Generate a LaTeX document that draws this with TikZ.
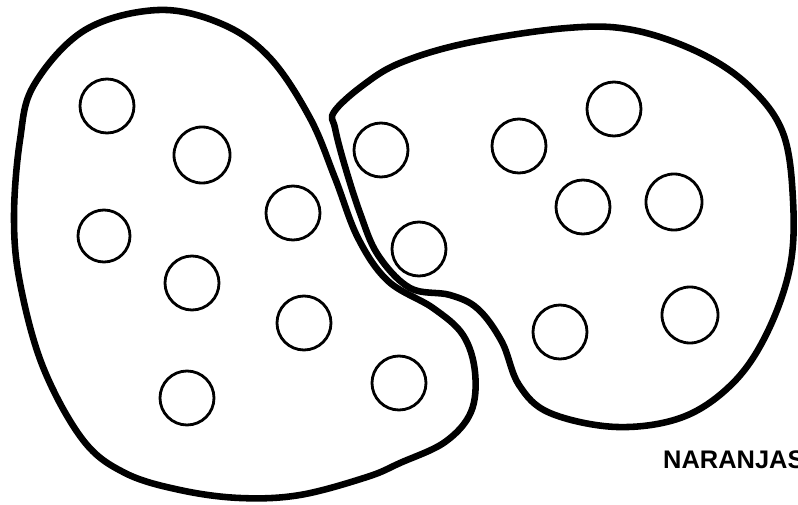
\documentclass[tikz,border=0pt]{standalone}
\usepackage{fontspec}
\setmainfont{Liberation Sans}
\usepackage{xcolor}
\usepackage{tikz}
\usetikzlibrary{positioning}
\definecolor{inkc}{HTML}{000000}
\tikzset{
  blob/.style={draw=inkc,line width=5.6pt,line join=round},
  fruit/.style={draw=inkc,line width=2.4pt},
  lbl/.style={font=\bfseries\fontsize{21.7}{26}\selectfont,inkc,inner sep=0pt}
}
\begin{document}
\begin{tikzpicture}[x=0.03cm,y=-0.03cm]
\useasboundingbox (0,0) rectangle (798,505);
% left group
\draw[blob] plot[smooth cycle,tension=0.6] coordinates{
  (158,10) (222,24) (270,58) (310,118) (335,178) (358,238) (388,281)
  (433,308) (463,335) (475,372) (471,412) (445,442) (400,463) (367,477)
  (300,495) (240,498) (180,490) (125,473) (83,440) (43,367) (20,283)
  (14,217) (20,140) (34,85) (85,30)};
% right group
\draw[blob] plot[smooth cycle,tension=0.6] coordinates{
  (334,112) (362,86) (400,63) (467,43) (567,28) (633,30) (700,53)
  (750,87) (783,133) (793,200) (790,267) (767,333) (733,383) (683,417)
  (617,427) (550,413) (519,385) (502,342) (478,309) (450,295) (410,288)
  (378,255) (360,213) (344,163) (335,128)};
% oranges
\foreach \cx/\cy/\r in {107/106/27,202/155/28,293/213/27,104/236/26,
  192/283/27,304/323/27,187/398/27,399/383/27}
  \draw[fruit] (\cx,\cy) circle[radius=\r];
\foreach \cx/\cy/\r in {381/150/27,419/249/27,519/146/27,614/109/27,
  583/207/27,674/202/28,560/332/27,690/315/28}
  \draw[fruit] (\cx,\cy) circle[radius=\r];
\node[lbl,anchor=base west] (naranjas) at (663,468) {NARANJAS};
\end{tikzpicture}
\end{document}
